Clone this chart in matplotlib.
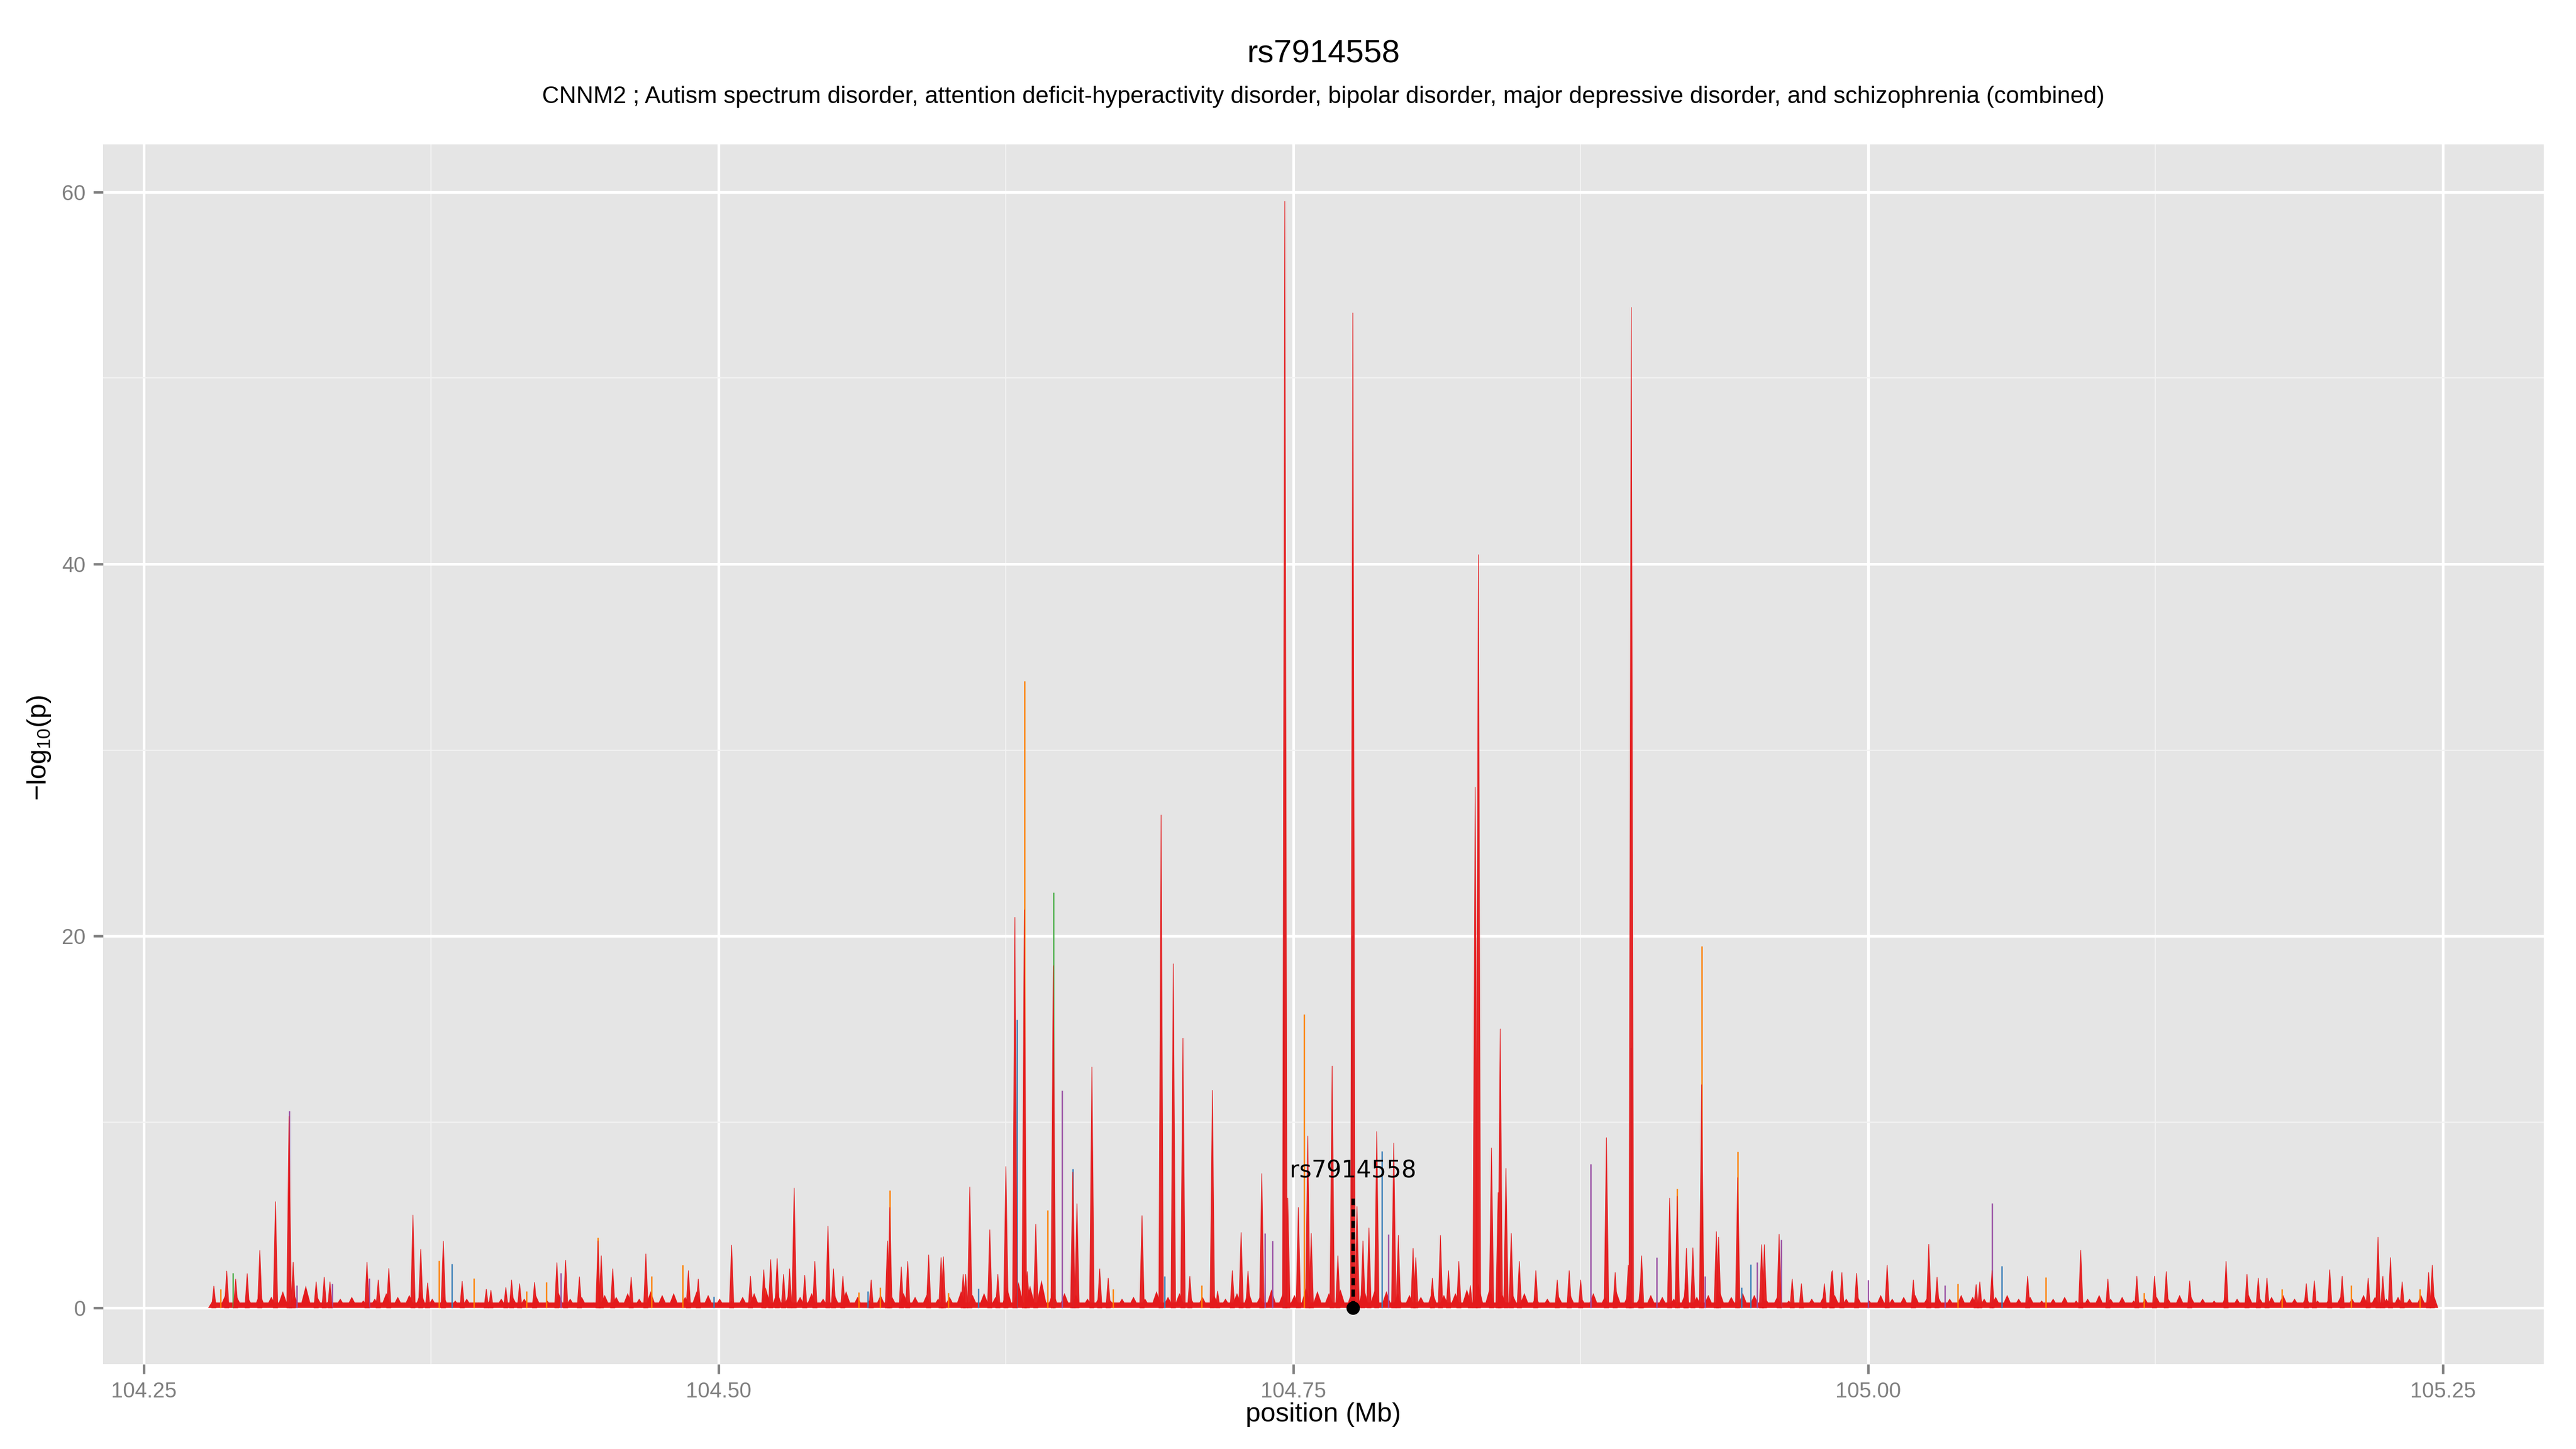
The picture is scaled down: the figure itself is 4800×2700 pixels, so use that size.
import numpy as np
import matplotlib
matplotlib.use("Agg")
import matplotlib.pyplot as plt
from matplotlib.collections import PolyCollection

# --- data ---
lead_snp = "rs7914558"
lead_pos = 104.7759
subtitle = ("CNNM2 ; Autism spectrum disorder, attention deficit-hyperactivity disorder, "
            "bipolar disorder, major depressive disorder, and schizophrenia (combined)")

# background -log10(p) level, sampled every 5 kb from 104.2805 to 105.2455 Mb
floor_vals = [
    0.5, 0.7, 0.6, 0.5, 0.8, 0.6, 0.9, 0.7, 1.2, 0.6,
    0.4, 0.5, 0.6, 0.4, 0.5, 0.8, 0.6, 0.7, 0.9, 0.5,
    0.6, 0.4, 0.5, 0.3, 0.4, 0.5, 0.6, 0.5, 0.7, 0.4,
    0.8, 0.5, 0.6, 0.3, 0.7, 0.6, 0.8, 0.5, 0.9, 0.7,
    0.8, 0.6, 0.9, 0.7, 0.5, 0.4, 0.6, 0.8, 1.1, 0.9,
    0.7, 0.6, 0.8, 0.5, 0.7, 0.9, 0.6, 0.4, 0.7, 0.6,
    0.8, 0.6, 0.7, 0.5, 0.6, 0.9, 0.7, 0.8, 0.6, 1.1,
    1.4, 1.2, 1.5, 0.9, 0.8, 0.7, 0.5, 0.6, 0.4, 0.5,
    0.6, 0.5, 0.9, 0.6, 0.8, 0.5, 0.6, 0.7, 0.5, 0.8,
    0.9, 0.6, 1.0, 0.8, 0.7, 1.1, 0.9, 0.8, 1.0, 0.9,
    1.2, 1.0, 0.9, 0.8, 0.7, 0.6, 0.9, 0.7, 0.8, 1.0,
    1.3, 1.1, 0.9, 0.7, 0.8, 0.6, 0.5, 0.6, 0.7, 0.5,
    0.8, 0.6, 0.9, 0.7, 0.5, 0.7, 0.6, 0.5, 0.8, 0.6,
    0.7, 0.9, 0.6, 0.8, 0.7, 0.5, 0.6, 0.4, 0.3, 0.5,
    0.6, 0.7, 0.5, 0.6, 0.4, 0.7, 0.5, 0.6, 0.7, 0.5,
    0.6, 0.5, 0.7, 0.6, 0.5, 0.6, 0.7, 0.5, 0.6, 0.4,
    0.5, 0.6, 0.4, 0.5, 0.7, 0.5, 0.6, 0.4, 0.5, 0.6,
    0.5, 0.7, 0.6, 0.5, 0.4, 0.6, 0.5, 0.7, 0.5, 0.6,
    0.7, 0.5, 0.6, 0.4, 0.5, 0.6, 0.5, 0.7, 0.6, 0.5,
    0.6, 0.5, 0.7, 0.9,
]
floor_start, floor_end = 104.2805, 105.2455
base_level = 0.3  # solid band under the background noise

# main (red) SNP peaks: position (Mb), -log10(p)
red_pos = [
    104.2805, 104.2861, 104.2900, 104.2950, 104.3005, 104.3073, 104.3132, 104.3150,
    104.3250, 104.3285, 104.3310, 104.3471, 104.3520, 104.3566, 104.3671, 104.3705,
    104.3735, 104.3803, 104.3885, 104.3990, 104.4010, 104.4075, 104.4100, 104.4135,
    104.4200, 104.4297, 104.4335, 104.4395, 104.4476, 104.4490, 104.4540, 104.4620,
    104.4684, 104.4869, 104.4912, 104.5057, 104.5139, 104.5197, 104.5227, 104.5255,
    104.5283, 104.5309, 104.5329, 104.5375, 104.5419, 104.5476, 104.5500, 104.5541,
    104.5664, 104.5735, 104.5745, 104.5795, 104.5823, 104.5914, 104.5968, 104.5978,
    104.6064, 104.6075, 104.6093, 104.6180, 104.6215, 104.6250, 104.6289, 104.6330,
    104.6343, 104.6380, 104.6456, 104.6541, 104.6559, 104.6624, 104.6658, 104.6695,
    104.6842, 104.6925, 104.6978, 104.7020, 104.7050, 104.7148, 104.7171, 104.7235,
    104.7273, 104.7303, 104.7363, 104.7463, 104.7476, 104.7522, 104.7563, 104.7578,
    104.7669, 104.7694, 104.7759, 104.7777, 104.7803, 104.7829, 104.7863, 104.7937,
    104.7957, 104.8021, 104.8033, 104.8105, 104.8140, 104.8175, 104.8220, 104.8270,
    104.8291, 104.8305, 104.8362, 104.8391, 104.8400, 104.8425, 104.8448, 104.8483,
    104.8555, 104.8648, 104.8700, 104.8750, 104.8862, 104.8900, 104.8957, 104.8970,
    104.9010, 104.9015, 104.9137, 104.9170, 104.9207, 104.9210, 104.9238, 104.9276,
    104.9340, 104.9350, 104.9433, 104.9537, 104.9549, 104.9613, 104.9670, 104.9710,
    104.9810, 104.9841, 104.9845, 104.9886, 104.9950, 105.0083, 105.0197, 105.0264,
    105.0300, 105.0470, 105.0486, 105.0539, 105.0694, 105.0925, 105.1043, 105.1169,
    105.1246, 105.1297, 105.1399, 105.1557, 105.1648, 105.1697, 105.1735, 105.1906,
    105.1941, 105.2008, 105.2062, 105.2175, 105.2218, 105.2239, 105.2272, 105.2323,
    105.2438, 105.2454,
]
red_val = [
    1.17, 1.98, 1.55, 1.84, 3.09, 5.71, 10.3, 2.45,
    1.4, 1.65, 1.4, 2.45, 1.5, 2.12, 4.99, 3.15,
    1.34, 3.59, 1.43, 1.0, 0.95, 1.1, 1.5, 1.3,
    1.37, 2.43, 2.56, 1.67, 3.6, 2.8, 2.1, 1.65,
    2.9, 2.0, 1.55, 3.37, 1.7, 2.05, 2.6, 2.65,
    1.8, 2.1, 6.44, 1.75, 2.5, 4.4, 2.1, 1.7,
    1.5, 3.6, 5.4, 2.2, 2.5, 2.85, 2.7, 2.75,
    1.8, 1.8, 6.5, 4.2, 1.8, 7.6, 21.0, 21.4,
    1.95, 4.5, 18.4, 7.3, 5.6, 12.95, 2.1, 1.6,
    4.96, 26.5, 18.5, 14.5, 1.7, 11.7, 0.9, 2.0,
    4.05, 1.98, 7.22, 59.5, 5.9, 5.4, 9.24, 4.0,
    13.0, 2.8, 53.5, 5.45, 3.6, 4.3, 9.48, 8.86,
    3.9, 3.2, 2.7, 1.6, 3.9, 2.0, 2.5, 1.2,
    28.0, 40.5, 8.6, 6.2, 15.0, 7.5, 4.0, 2.5,
    2.0, 1.5, 2.0, 1.5, 9.15, 1.9, 2.3, 53.8,
    1.3, 2.8, 5.9, 6.0, 1.6, 3.2, 3.23, 12.0,
    4.1, 3.8, 7.0, 3.4, 3.4, 3.96, 1.55, 1.3,
    1.3, 1.95, 2.0, 1.9, 1.86, 2.3, 1.5, 3.42,
    1.65, 1.25, 1.4, 2.0, 1.7, 3.1, 1.55, 1.7,
    1.7, 1.95, 1.45, 2.5, 1.8, 1.6, 1.6, 1.3,
    1.45, 2.05, 1.7, 1.6, 3.8, 1.7, 2.7, 1.4,
    1.9, 2.3,
]

# SNPs drawn in the other colour groups
line_pos = [
    104.2835, 104.2888, 104.3132, 104.3165, 104.3320, 104.3480, 104.3785, 104.3840,
    104.3935, 104.4165, 104.4250, 104.4315, 104.4476, 104.4708, 104.4845, 104.4979,
    104.5200, 104.5610, 104.5650, 104.5704, 104.5745, 104.6000, 104.6131, 104.6297,
    104.6330, 104.6432, 104.6456, 104.6494, 104.6541, 104.6716, 104.6941, 104.7100,
    104.7377, 104.7410, 104.7459, 104.7548, 104.7754, 104.7886, 104.7914, 104.8100,
    104.8794, 104.8968, 104.9080, 104.9170, 104.9276, 104.9290, 104.9433, 104.9450,
    104.9488, 104.9516, 104.9622, 105.0000, 105.0335, 105.0390, 105.0539, 105.0582,
    105.0772, 105.1200, 105.1800, 105.2100, 105.2400,
]
line_val = [
    1.0, 1.87, 10.6, 1.2, 1.3, 1.6, 2.54, 2.36,
    1.6, 0.9, 1.4, 1.88, 3.78, 1.7, 2.3, 0.6,
    1.0, 0.85, 0.9, 1.1, 6.33, 0.8, 1.05, 15.5,
    33.7, 5.25, 22.35, 11.7, 7.48, 1.0, 1.7, 1.2,
    4.0, 3.6, 23.0, 15.8, 20.0, 8.43, 3.95, 1.0,
    7.75, 14.0, 2.7, 6.4, 19.45, 1.7, 8.4, 1.1,
    2.35, 2.45, 3.66, 1.5, 1.2, 1.3, 5.63, 2.25,
    1.65, 0.8, 1.0, 1.2, 1.0,
]
line_grp = [
    "orange", "green", "purple", "purple", "purple", "purple", "orange", "blue",
    "orange", "orange", "orange", "purple", "orange", "orange", "orange", "blue",
    "orange", "orange", "blue", "orange", "orange", "orange", "blue", "blue",
    "orange", "orange", "green", "purple", "blue", "orange", "blue", "orange",
    "purple", "purple", "blue", "orange", "blue", "blue", "purple", "orange",
    "purple", "blue", "purple", "orange", "orange", "purple", "orange", "blue",
    "blue", "purple", "purple", "purple", "purple", "orange", "purple", "blue",
    "orange", "orange", "orange", "orange", "orange",
]

palette = {"red": "#E41A1C", "blue": "#377EB8", "green": "#4DAF4A",
           "purple": "#984EA3", "orange": "#FF7F00"}

plt.rcParams["font.family"] = ["Liberation Sans", "DejaVu Sans"]
plt.rcParams["mathtext.fontset"] = "custom"
plt.rcParams["mathtext.rm"] = "Liberation Sans"
plt.rcParams["mathtext.default"] = "regular"

fig = plt.figure(figsize=(16, 9), dpi=300)
ax = fig.add_axes([0.04, 0.0585, 0.9475, 0.8419])
ax.set_facecolor("#E5E5E5")
red = palette["red"]

# background noise: solid band plus small jagged spikes
ax.fill_between([floor_start, floor_end], base_level, 0, color=red, lw=0, zorder=3)
floor_pos = np.linspace(floor_start, floor_end, len(floor_vals))
fw = 0.0025
floor_verts = [[(x - fw, 0), (x, h), (x + fw, 0)] for x, h in zip(floor_pos, floor_vals)]
ax.add_collection(PolyCollection(floor_verts, facecolors=red, edgecolors="none", zorder=3))

# other colour groups as thin lines (behind the red peaks)
ax.vlines(line_pos, 0, line_val, colors=[palette[g] for g in line_grp],
          linewidth=0.6, zorder=4)

# red peaks as narrow spikes
half_w = 0.001
verts = [[(x - half_w, 0), (x, h), (x + half_w, 0)] for x, h in zip(red_pos, red_val)]
ax.add_collection(PolyCollection(verts, facecolors=red, edgecolors=red,
                                 linewidths=0.3, alpha=0.95, zorder=5))

# lead SNP marker
ax.plot([lead_pos, lead_pos], [0, 5.9], color="black", lw=1.6,
        linestyle=(0, (2.0, 1.2)), zorder=6)
ax.plot([lead_pos], [0], "o", color="black", markersize=5, zorder=7)
ax.text(lead_pos, 7.35, lead_snp, ha="center", va="center", fontsize=10.5,
        family="DejaVu Sans", zorder=8)

# axes, grid
ax.set_xlim(104.2323, 105.2939)
ax.set_ylim(-3.03, 62.57)
ax.set_xticks([104.25, 104.50, 104.75, 105.00, 105.25])
ax.set_xticklabels(["104.25", "104.50", "104.75", "105.00", "105.25"])
ax.set_xticks([104.375, 104.625, 104.875, 105.125], minor=True)
ax.set_yticks([0, 20, 40, 60])
ax.set_yticks([10, 30, 50], minor=True)
ax.grid(which="major", color="white", lw=1.2, zorder=0)
ax.grid(which="minor", color="#F2F2F2", lw=0.55, zorder=0)
ax.set_axisbelow(True)
for s in ax.spines.values():
    s.set_visible(False)
ax.tick_params(which="major", length=4.3, width=1.1, color="#7F7F7F",
               labelcolor="#7F7F7F", labelsize=9.6, pad=3.4)
ax.tick_params(which="minor", length=0)

ax.set_xlabel("position (Mb)", fontsize=12)
ax.set_ylabel("\u2212log$_{10}$(p)", fontsize=12)
ax.xaxis.set_label_coords(0.5, (0.0237 - 0.0585) / 0.8419)
ax.yaxis.set_label_coords((0.0152 - 0.04) / 0.9475, 0.505)
ax.xaxis.label.set_va("center")
ax.yaxis.label.set_va("center")

ax.text(0.5, (0.9626 - 0.0585) / 0.8419, lead_snp, transform=ax.transAxes,
        ha="center", va="center", fontsize=14.5)
ax.text(0.5, (0.933 - 0.0585) / 0.8419, subtitle, transform=ax.transAxes,
        ha="center", va="center", fontsize=10.6)

fig.savefig("out.png", dpi=300)
